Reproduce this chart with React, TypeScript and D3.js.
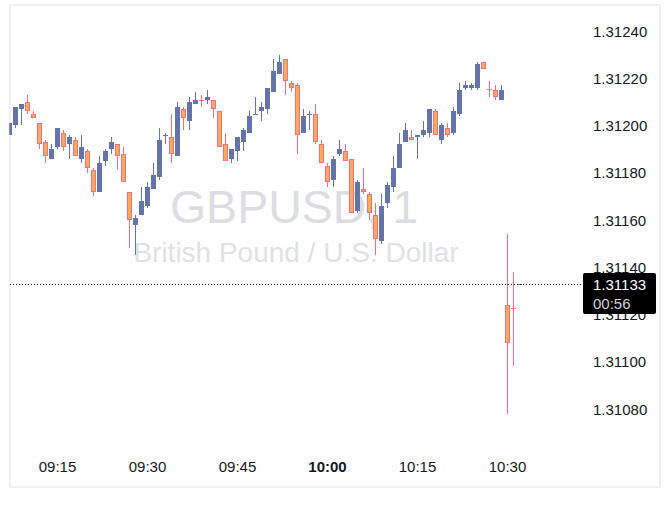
import React from "react";
import * as d3 from "d3";

// ---- data (1-minute candles, GBPUSD) ----
const startMinute = "09:07";
const opens = [
  1.31196, 1.312, 1.31207, 1.3121, 1.31205, 1.31201, 1.31193, 1.31186, 1.31191, 1.31197,
  1.31192, 1.31194, 1.31186, 1.31189, 1.31181, 1.31172, 1.31185, 1.3119, 1.31192, 1.31188,
  1.31172, 1.31158, 1.31162, 1.31166, 1.31173, 1.31178, 1.31196, 1.31195, 1.31187, 1.31207,
  1.31202, 1.31209, 1.31211, 1.31211, 1.31211, 1.31206, 1.31192, 1.31186, 1.31189, 1.31193,
  1.31197, 1.31205, 1.31206, 1.31207, 1.31214, 1.31222, 1.31228, 1.31218, 1.31217, 1.31197,
  1.31205, 1.31205, 1.31192, 1.31183, 1.31177, 1.31188, 1.31189, 1.31186, 1.31164, 1.31173,
  1.31171, 1.31162, 1.31151, 1.31167, 1.31174, 1.31182, 1.31193, 1.31195, 1.31195, 1.31196,
  1.31197, 1.31206, 1.31194, 1.31199, 1.31197, 1.31205, 1.31216, 1.31216, 1.31216, 1.31227,
  1.31216, 1.31215, 1.31211, 1.31124, 1.31123, 1.31133,
];
const highs = [
  1.31201, 1.31208, 1.31209, 1.31213, 1.31206, 1.31201, 1.31194, 1.31192, 1.31199, 1.31198,
  1.31196, 1.31195, 1.31196, 1.3119, 1.31182, 1.31187, 1.3119, 1.31195, 1.31192, 1.31191,
  1.31172, 1.31162, 1.31174, 1.31176, 1.31184, 1.31199, 1.31197, 1.31205, 1.3121, 1.31208,
  1.31212, 1.31214, 1.31213, 1.31215, 1.31211, 1.31206, 1.31197, 1.3119, 1.31195, 1.31199,
  1.31206, 1.31212, 1.3121, 1.31216, 1.31228, 1.3123, 1.31228, 1.31219, 1.31218, 1.31207,
  1.31206, 1.31209, 1.31194, 1.31184, 1.31187, 1.31194, 1.31192, 1.31186, 1.31177, 1.31182,
  1.31172, 1.31167, 1.31171, 1.31176, 1.31187, 1.31197, 1.31201, 1.31198, 1.31196, 1.31202,
  1.31207, 1.31207, 1.31201, 1.31201, 1.31208, 1.31218, 1.31219, 1.31218, 1.31227, 1.31227,
  1.31219, 1.31217, 1.31217, 1.31154, 1.31138, 1.31133,
];
const lows = [
  1.31196, 1.31199, 1.312, 1.31205, 1.31203, 1.3119, 1.31184, 1.31186, 1.3119, 1.31189,
  1.31186, 1.31187, 1.31184, 1.3118, 1.3117, 1.31172, 1.31183, 1.31188, 1.31181, 1.31176,
  1.31148, 1.31145, 1.31162, 1.31165, 1.31173, 1.31177, 1.31192, 1.31184, 1.31187, 1.31198,
  1.31198, 1.31209, 1.31208, 1.31209, 1.31203, 1.31191, 1.31185, 1.31184, 1.31185, 1.31189,
  1.31197, 1.31205, 1.31202, 1.31205, 1.31214, 1.31222, 1.31213, 1.31214, 1.31188, 1.31197,
  1.31198, 1.31192, 1.31184, 1.31174, 1.31174, 1.31187, 1.31185, 1.31163, 1.31163, 1.31171,
  1.3116, 1.31145, 1.3115, 1.31165, 1.31172, 1.31182, 1.31193, 1.31194, 1.31186, 1.31195,
  1.31195, 1.31196, 1.31192, 1.31195, 1.31196, 1.31204, 1.31215, 1.31215, 1.31215, 1.31224,
  1.31212, 1.31211, 1.31211, 1.31078, 1.31098, 1.31133,
];
const closes = [
  1.31201, 1.31208, 1.31209, 1.31206, 1.31203, 1.31192, 1.31187, 1.3119, 1.31199, 1.31191,
  1.31195, 1.31187, 1.31191, 1.31182, 1.31172, 1.31184, 1.31189, 1.31193, 1.31187, 1.31176,
  1.3116, 1.31161, 1.31168, 1.31174, 1.31179, 1.31194, 1.31196, 1.31188, 1.31208, 1.31203,
  1.3121, 1.31211, 1.312106, 1.31212, 1.31207, 1.31191, 1.31185, 1.3119, 1.31195, 1.31198,
  1.31204, 1.31205, 1.31208, 1.31216, 1.31223, 1.31227, 1.31219, 1.31216, 1.31196, 1.31204,
  1.31205, 1.31193, 1.31184, 1.31176, 1.31186, 1.3119, 1.31185, 1.31163, 1.31176, 1.31172,
  1.31163, 1.31152, 1.31166, 1.31175, 1.31182, 1.31192, 1.31198, 1.31194, 1.31196, 1.31198,
  1.31207, 1.31196, 1.312, 1.31196, 1.31206, 1.31215, 1.31217, 1.31217, 1.31226, 1.31224,
  1.312156, 1.31212, 1.31215, 1.31108, 1.311226, 1.31133,
];
const timeTicks = ["09:15", "09:30", "09:45", "10:00", "10:15", "10:30"];
const boldTimeTick = "10:00";
const priceTicks = [1.3108, 1.311, 1.3112, 1.3114, 1.3116, 1.3118, 1.312, 1.3122, 1.3124];
const lastPrice = 1.31133;
const countdown = "00:56";
const symbolTitle = "GBPUSD, 1";
const symbolDesc = "British Pound / U.S. Dollar";

// ---- styling ----
const W = 670;
const H = 505;
const UP = "#6574a8";
const DOWN_FILL = "#f9aa5d";
const DOWN_LINE = "#ef7184";
const TEXT = "#131722";
const FONT = "'Liberation Sans', Arial, sans-serif";

const parseHM = (s: string) => {
  const [h, m] = s.split(":").map(Number);
  return new Date(Date.UTC(2024, 0, 2, h, m));
};

export default function App() {
  const t0 = parseHM(startMinute);
  const data = opens.map((o, i) => ({
    t: d3.utcMinute.offset(t0, i),
    o,
    h: highs[i],
    l: lows[i],
    c: closes[i],
  }));

  const x = d3
    .scaleUtc()
    .domain([parseHM("09:15"), parseHM("10:30")])
    .range([57.5, 507.5]);
  const y = d3.scaleLinear().domain([1.3108, 1.3124]).range([409, 31]);
  const fmtPrice = d3.format(".5f");

  const lastY = Math.round(y(lastPrice)) + 0.5;

  return (
    <svg
      width={W}
      height={H}
      style={{ position: "absolute", left: 0, top: 0, background: "#fff" }}
      fontFamily={FONT}
    >
      <defs>
        <clipPath id="plot">
          <rect x={9.5} y={6} width={574} height={480} />
        </clipPath>
      </defs>
      <rect x={0} y={0} width={W} height={H} fill="#fff" />
      <rect x={10} y={5} width={650} height={482} fill="none" stroke="#eff0f3" strokeWidth={2} />

      {/* watermark */}
      <text x={294} y={222.5} textAnchor="middle" fontSize={46.5} fill="#dcdde1">
        {symbolTitle}
      </text>
      <text x={296} y={261.5} textAnchor="middle" fontSize={28} fill="#e0e1e4">
        {symbolDesc}
      </text>

      {/* candles */}
      <g clipPath="url(#plot)">
        {data.map((d, i) => {
          const cx = Math.floor(x(d.t));
          const up = d.c >= d.o;
          const wickColor = up ? UP : DOWN_LINE;
          const yTop = y(Math.max(d.o, d.c));
          const yBot = y(Math.min(d.o, d.c));
          const bh = yBot - yTop;
          return (
            <g key={i}>
              <line
                x1={cx + 0.5}
                x2={cx + 0.5}
                y1={Math.round(y(d.h))}
                y2={Math.round(y(d.l))}
                stroke={wickColor}
                strokeWidth={1}
              />
              {bh < 1.2 ? (
                <rect x={cx - 2} y={Math.round(y(d.c))} width={5} height={1} fill={wickColor} />
              ) : up ? (
                <rect
                  x={cx - 2}
                  y={Math.round(yTop)}
                  width={5}
                  height={Math.max(1, Math.round(yBot) - Math.round(yTop))}
                  fill={UP}
                />
              ) : (
                <rect
                  x={cx - 1.5}
                  y={Math.round(yTop) + 0.5}
                  width={4}
                  height={Math.max(0, Math.round(yBot) - Math.round(yTop) - 1)}
                  fill={DOWN_FILL}
                  stroke={DOWN_LINE}
                  strokeWidth={1}
                />
              )}
            </g>
          );
        })}
      </g>

      {/* last price dotted line */}
      <line x1={10} x2={583} y1={lastY} y2={lastY} stroke={TEXT} strokeWidth={1} strokeDasharray="1 2" />

      {/* price axis */}
      {priceTicks.map((p) => (
        <text
          key={p}
          x={593}
          y={y(p)}
          dominantBaseline="central"
          fontSize={15}
          fill={TEXT}
        >
          {fmtPrice(p)}
        </text>
      ))}

      {/* time axis */}
      {timeTicks.map((s) => (
        <text
          key={s}
          x={x(parseHM(s))}
          y={472}
          textAnchor="middle"
          fontSize={15}
          fontWeight={s === boldTimeTick ? "bold" : "normal"}
          fill={TEXT}
        >
          {s}
        </text>
      ))}

      {/* last price label */}
      <rect x={583} y={273} width={73} height={41} rx={2} fill="#000" />
      <text x={593} y={284.5} dominantBaseline="central" fontSize={15} fill="#fff">
        {fmtPrice(lastPrice)}
      </text>
      <text x={593} y={303.5} dominantBaseline="central" fontSize={15} fill="#d1d4dc">
        {countdown}
      </text>
    </svg>
  );
}
